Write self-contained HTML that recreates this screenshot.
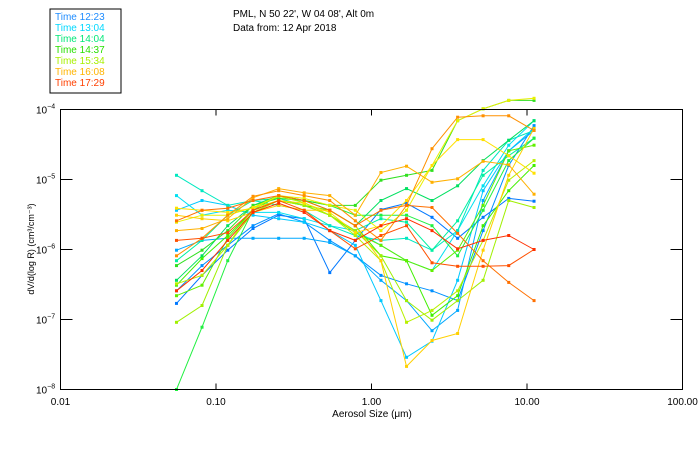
<!DOCTYPE html>
<html><head><meta charset="utf-8"><style>
body{margin:0;background:#fff;}
svg text{font-family:"Liberation Sans",sans-serif;}
</style></head><body>
<svg id="chart" width="700" height="450" xmlns="http://www.w3.org/2000/svg">
<rect width="700" height="450" fill="#fff"/>
<text x="233" y="17" font-size="10">PML, N 50 22', W 04 08', Alt 0m</text>
<text x="233" y="31" font-size="10">Data from: 12 Apr 2018</text>
<g id="legend">
<rect x="50" y="9" width="71" height="84" fill="none" stroke="#000" stroke-width="1"/>
</g>
<g id="plot"></g>
<rect x="60.5" y="109.5" width="622" height="280" fill="none" stroke="#000"/>
<text transform="translate(34,249) rotate(-90)" text-anchor="middle" font-size="9">dV/d(log R) (cm³/cm⁻³)</text>
<text x="372" y="417" text-anchor="middle" font-size="10">Aerosol Size (μm)</text>
</svg>
<script>
const sizes=[0.0557,0.0813,0.119,0.173,0.253,0.369,0.539,0.787,1.15,1.68,2.45,3.58,5.22,7.63,11.1];
const seriesColors=["#0078ff","#0090ff","#00a8ff","#00c8ff","#00e0f0","#00e8c0","#00f0a0","#00e060","#20f040","#40f000","#30e020","#60f000","#a0f000","#b8f000","#e8f000","#ffe000","#ffd000","#ffb000","#ff9000","#ff7000","#ff5000","#ff3000"];
const s1=[-6.77,-6.37,-6.01,-5.70,-5.51,-5.56,-6.33,-5.87,-5.43,-5.34,-5.54,-5.84,-5.54,-5.27,-5.31];
const s2=[-6.59,-6.23,-5.94,-5.66,-5.49,-5.61,-5.87,-6.09,-6.37,-6.49,-6.59,-6.73,-5.73,-4.80,-4.23];
const s3=[-6.01,-5.87,-5.84,-5.84,-5.84,-5.84,-5.90,-6.09,-6.44,-6.73,-7.16,-6.87,-5.30,-4.59,-4.30];
const s4=[-5.44,-5.30,-5.37,-5.51,-5.56,-5.61,-5.73,-5.94,-6.73,-7.54,-7.31,-6.44,-5.16,-4.59,-4.27];
const s5=[-5.23,-5.51,-5.44,-5.47,-5.47,-5.56,-5.66,-5.73,-5.94,-6.16,-6.30,-5.73,-5.09,-4.51,-4.16];
const s6=[-4.94,-5.16,-5.37,-5.30,-5.37,-5.44,-5.66,-5.80,-5.87,-5.84,-6.01,-5.73,-4.87,-4.44,-4.30];
const s7=[-6.16,-5.87,-5.51,-5.30,-5.27,-5.37,-5.51,-5.73,-5.56,-5.61,-6.01,-5.59,-4.94,-4.66,-4.41];
const s8=[-6.44,-6.09,-5.66,-5.37,-5.23,-5.30,-5.44,-5.66,-5.30,-5.13,-5.30,-5.09,-4.73,-4.44,-4.16];
const s9=[-8.00,-7.11,-6.16,-5.44,-5.23,-5.30,-5.37,-5.51,-5.51,-5.51,-5.66,-6.09,-5.44,-4.73,-4.41];
const s10=[-6.51,-6.13,-5.80,-5.44,-5.30,-5.37,-5.44,-5.66,-6.09,-6.16,-6.94,-6.66,-5.66,-5.16,-4.80];
const s11=[-6.23,-6.01,-5.73,-5.37,-5.27,-5.30,-5.37,-5.37,-5.01,-4.94,-4.87,-4.16,-3.99,-3.87,-3.87];
const s12=[-6.66,-6.51,-5.84,-5.44,-5.30,-5.37,-5.51,-5.76,-5.94,-6.16,-6.30,-6.01,-5.37,-4.59,-4.51];
const s13=[-7.04,-6.80,-5.94,-5.47,-5.30,-5.37,-5.51,-5.73,-6.09,-6.73,-7.01,-6.73,-6.44,-5.30,-5.40];
const s14=[-6.49,-6.37,-5.94,-5.41,-5.24,-5.33,-5.51,-5.80,-6.16,-7.04,-6.87,-6.59,-5.87,-5.01,-4.73];
const s15=[-5.61,-5.51,-5.51,-5.40,-5.23,-5.27,-5.37,-5.44,-5.73,-5.44,-4.80,-4.16,-3.99,-3.87,-3.84];
const s16=[-5.41,-5.44,-5.47,-5.41,-5.30,-5.34,-5.47,-5.76,-5.66,-5.30,-4.80,-4.43,-4.43,-4.66,-4.91];
const s17=[-5.51,-5.56,-5.59,-5.47,-5.37,-5.44,-5.44,-5.66,-6.16,-7.67,-7.30,-7.20,-6.01,-4.94,-4.27];
const s18=[-5.73,-5.70,-5.56,-5.26,-5.13,-5.19,-5.23,-5.51,-4.90,-4.81,-5.04,-4.99,-4.74,-4.79,-5.21];
const s19=[-6.09,-5.84,-5.51,-5.24,-5.16,-5.23,-5.30,-5.59,-5.87,-5.37,-4.56,-4.11,-4.09,-4.09,-4.30];
const s20=[-5.59,-5.44,-5.41,-5.30,-5.23,-5.30,-5.44,-5.66,-5.44,-5.37,-5.40,-5.77,-6.16,-6.47,-6.73];
const s21=[-5.87,-5.84,-5.76,-5.44,-5.30,-5.44,-5.73,-5.99,-5.80,-5.66,-6.19,-6.24,-6.24,-6.23,-6.00];
const s22=[-6.59,-6.30,-5.87,-5.47,-5.34,-5.47,-5.73,-5.87,-5.66,-5.56,-5.73,-5.99,-5.87,-5.80,-6.00];
const allSeries=[s1,s2,s3,s4,s5,s6,s7,s8,s9,s10,s11,s12,s13,s14,s15,s16,s17,s18,s19,s20,s21,s22];
const legendLabels=["Time 12:23","Time 13:04","Time 14:04","Time 14:37","Time 15:34","Time 16:08","Time 17:29"];
const legendColors=["#1e8cff","#00d8ff","#00e878","#28e000","#a8f000","#ffb400","#ff4000"];
const xTickValues=[0.01,0.1,1,10,100];
const xTickLabels=["0.01","0.10","1.00","10.00","100.00"];
const yTickExps=[-4,-5,-6,-7,-8];

const NS="http://www.w3.org/2000/svg";
const L=60.5,R=682.5,T=109.5,B=389.5;
function xs(v){return L+(Math.log10(v)+2)/4*(R-L);}
function ys(e){return T+(-4-e)/4*(B-T);}
function mk(tag,attrs,parent){const el=document.createElementNS(NS,tag);for(const k in attrs)el.setAttribute(k,attrs[k]);parent.appendChild(el);return el;}
const svg=document.getElementById('chart');
const plot=document.getElementById('plot');
const legend=document.getElementById('legend');

allSeries.forEach((s,i)=>{
  const c=seriesColors[i];
  const pts=s.map((e,j)=>xs(sizes[j]).toFixed(1)+","+ys(e).toFixed(1)).join(" ");
  const pl=mk('polyline',{points:pts,fill:'none',stroke:c,'stroke-width':1},plot);
  
  
  s.forEach((e,j)=>{
    const r=mk('rect',{x:xs(sizes[j])-1.5,y:ys(e)-1.5,width:3,height:3,fill:c},plot);
    
    
  });
});

legendLabels.forEach((t,i)=>{
  const tx=mk('text',{x:55,y:20+i*11,'font-size':10,fill:legendColors[i]},legend);
  tx.textContent=t;
  
  
});

xTickValues.forEach((v,i)=>{
  const x=xs(v);
  if(i>0&&i<xTickValues.length-1){
    const t1=mk('line',{x1:x,x2:x,y1:B,y2:B-6,stroke:'#000'},svg);
    
    
    const t2=mk('line',{x1:x,x2:x,y1:T,y2:T+6,stroke:'#000'},svg);
    
    
  }
  const lb=mk('text',{x:x,y:405,'text-anchor':'middle','font-size':10},svg);
  lb.textContent=xTickLabels[i];
  
  
});

yTickExps.forEach((e,i)=>{
  const y=ys(e);
  if(i>0&&i<yTickExps.length-1){
    const t1=mk('line',{x1:L,x2:L+12,y1:y,y2:y,stroke:'#000'},svg);
    
    
    const t2=mk('line',{x1:R,x2:R-12,y1:y,y2:y,stroke:'#000'},svg);
    
    
  }
  const lb=mk('text',{x:36,y:y+4,'font-size':10},svg);
  
  
  lb.appendChild(document.createTextNode('10'));
  const sp=mk('tspan',{dy:-5,'font-size':7},lb);
  sp.textContent=String(e).replace('-','−');
});
</script>
</body></html>
